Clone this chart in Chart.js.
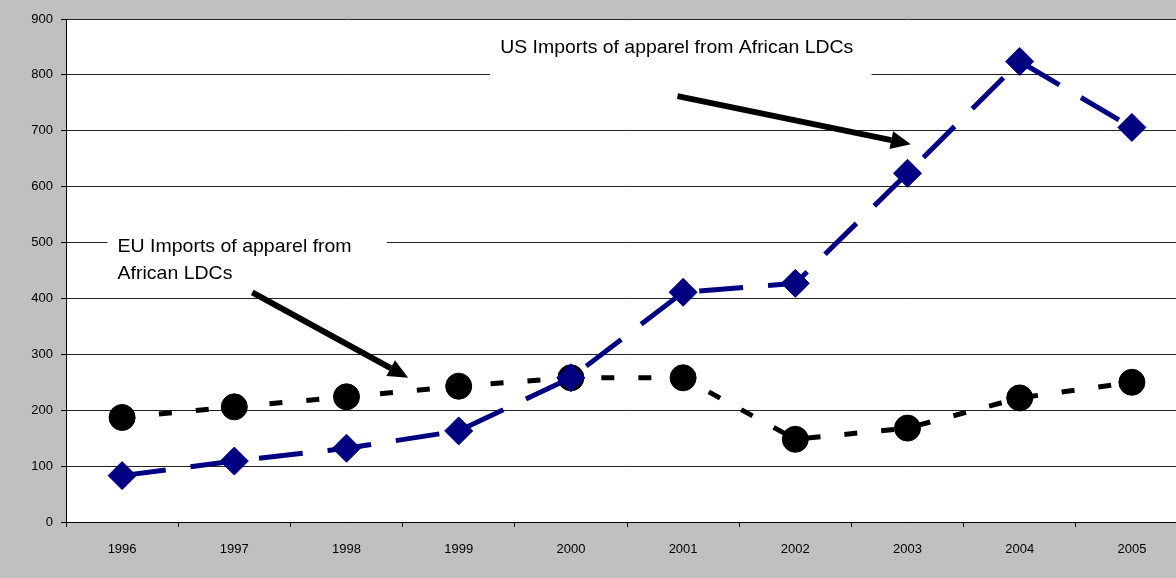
<!DOCTYPE html>
<html>
<head>
<meta charset="utf-8">
<script src="https://cdn.jsdelivr.net/npm/chart.js@4/dist/chart.umd.min.js"></script>
<style>
  html, body { margin: 0; padding: 0; overflow: hidden; background: #c0c0c0; }
  #wrap { position: absolute; left: 0; top: 0; width: 1188px; height: 578px; }
</style>
</head>
<body>
<div id="wrap"><canvas id="chart" width="1188" height="578" style="width:1188px;height:578px"></canvas></div>
<script>
  // Chart data
  const years = ['1996', '1997', '1998', '1999', '2000', '2001', '2002', '2003', '2004', '2005'];
  const usImports = [83, 109, 132, 163, 258, 411, 427, 624, 824, 706];
  const euImports = [187, 206, 224, 243, 258, 258, 148, 168, 222, 250];
  const yTicks = [0, 100, 200, 300, 400, 500, 600, 700, 800, 900];

  // Annotation labels and arrows, placed in data units (category index, value)
  const usLabel = ['US Imports of apparel from African LDCs'];
  const euLabel = ['EU Imports of apparel from', 'African LDCs'];
  const notes = [
    { lines: usLabel, x: 3.37, y: 839, box: [3.28, 884, 6.68, 787], width: 353 },
    { lines: euLabel, x: -0.04, y: 483, box: [-0.13, 526, 2.36, 415], width: 234 }
  ];
  const arrows = [
    { from: [4.95, 762], to: [7.03, 676] },
    { from: [1.16, 411], to: [2.55, 258] }
  ];

  const FONT = '"Liberation Sans", Arial, sans-serif';

  // Grey page background and white plot area
  const backdrop = {
    id: 'backdrop',
    beforeDraw(chart) {
      const { ctx, chartArea: a } = chart;
      ctx.save();
      ctx.fillStyle = '#c0c0c0';
      ctx.fillRect(0, 0, chart.width, chart.height);
      ctx.fillStyle = '#ffffff';
      ctx.fillRect(a.left, a.top, a.right - a.left, a.bottom - a.top);
      ctx.restore();
    }
  };

  // Text boxes sit on top of the gridlines, under the data
  const labelBoxes = {
    id: 'labelBoxes',
    beforeDatasetsDraw(chart) {
      const { ctx, scales } = chart;
      const x = scales.x, y = scales.y;
      ctx.save();
      notes.forEach(n => {
        const x0 = x.getPixelForValue(n.box[0]);
        const y0 = y.getPixelForValue(n.box[1]);
        const x1 = x.getPixelForValue(n.box[2]);
        const y1 = y.getPixelForValue(n.box[3]);
        ctx.fillStyle = '#ffffff';
        ctx.fillRect(x0, y0, x1 - x0, y1 - y0);

        ctx.font = '19px ' + FONT;
        ctx.fillStyle = '#000000';
        ctx.textBaseline = 'alphabetic';
        ctx.textAlign = 'left';
        const tx = x.getPixelForValue(n.x);
        const ty = y.getPixelForValue(n.y);
        // squeeze the first line to the width seen in the picture
        const w = ctx.measureText(n.lines[0]).width;
        const sx = n.width / w;
        n.lines.forEach((line, i) => {
          ctx.save();
          ctx.translate(tx, ty + i * 27);
          ctx.scale(sx, 1);
          ctx.fillText(line, 0, 0);
          ctx.restore();
        });
      });
      ctx.restore();
    }
  };

  // Black arrows pointing at each series
  const arrowPlugin = {
    id: 'arrows',
    afterDatasetsDraw(chart) {
      const { ctx, scales } = chart;
      ctx.save();
      arrows.forEach(a => {
        const x0 = scales.x.getPixelForValue(a.from[0]);
        const y0 = scales.y.getPixelForValue(a.from[1]);
        const x1 = scales.x.getPixelForValue(a.to[0]);
        const y1 = scales.y.getPixelForValue(a.to[1]);
        const ang = Math.atan2(y1 - y0, x1 - x0);
        const headLen = 20, headW = 9;
        const bx = x1 - Math.cos(ang) * headLen;
        const by = y1 - Math.sin(ang) * headLen;
        ctx.strokeStyle = '#000000';
        ctx.lineWidth = 6;
        ctx.lineCap = 'butt';
        ctx.beginPath();
        ctx.moveTo(x0, y0);
        ctx.lineTo(bx, by);
        ctx.stroke();
        ctx.fillStyle = '#000000';
        ctx.beginPath();
        ctx.moveTo(x1, y1);
        ctx.lineTo(bx + Math.sin(ang) * headW, by - Math.cos(ang) * headW);
        ctx.lineTo(bx - Math.sin(ang) * headW, by + Math.cos(ang) * headW);
        ctx.closePath();
        ctx.fill();
      });
      ctx.restore();
    }
  };

  new Chart(document.getElementById('chart').getContext('2d'), {
    type: 'line',
    data: {
      labels: years,
      datasets: [
        {
          label: 'EU',
          data: euImports,
          borderColor: '#000000',
          backgroundColor: '#000000',
          borderWidth: 5,
          borderDash: [13, 24],
          pointStyle: 'circle',
          pointRadius: 13,
          pointBorderWidth: 1,
          tension: 0,
          order: 2
        },
        {
          label: 'US',
          data: usImports,
          borderColor: '#000080',
          backgroundColor: '#000080',
          borderWidth: 5,
          borderDash: [44, 25],
          pointStyle: 'rectRot',
          pointRadius: 14,
          pointBorderWidth: 1,
          tension: 0,
          order: 1
        }
      ]
    },
    options: {
      responsive: false,
      animation: false,
      // no auto padding, so the plot runs past the right edge like the original
      layout: { autoPadding: false, padding: { top: 19, left: 0, right: 0, bottom: 0 } },
      plugins: {
        legend: { display: false },
        tooltip: { enabled: false }
      },
      scales: {
        x: {
          offset: true,
          grid: {
            offset: true,
            drawOnChartArea: false,
            drawTicks: true,
            tickLength: 5,
            color: '#000000'
          },
          border: { color: '#000000', width: 1 },
          ticks: {
            color: '#000000',
            font: { family: FONT, size: 13 },
            padding: 15,
            maxRotation: 0
          },
          afterFit(scale) {
            scale.height = 56;
            scale.paddingLeft = 0;
            scale.paddingRight = 0;
          }
        },
        y: {
          min: 0,
          max: 900,
          afterBuildTicks(scale) {
            scale.ticks = yTicks.map(v => ({ value: v }));
          },
          grid: {
            color: '#222222',
            lineWidth: 1,
            tickLength: 5,
            tickColor: '#000000'
          },
          border: { color: '#000000', width: 1 },
          ticks: {
            color: '#000000',
            font: { family: FONT, size: 13 },
            padding: 8
          },
          afterFit(scale) { scale.width = 66; }
        }
      }
    },
    plugins: [backdrop, labelBoxes, arrowPlugin]
  });
</script>
</body>
</html>
